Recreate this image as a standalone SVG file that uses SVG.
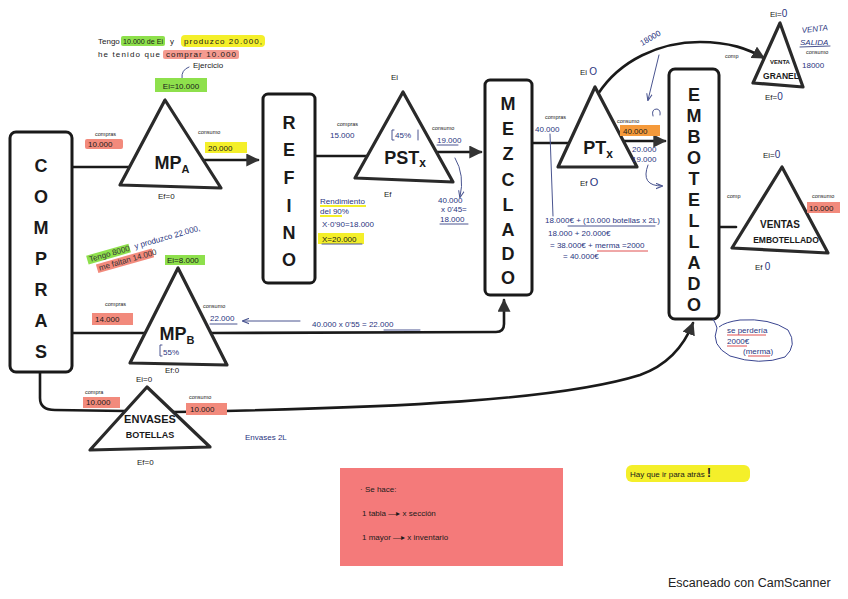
<svg xmlns="http://www.w3.org/2000/svg" width="848" height="599" viewBox="0 0 848 599">
<style>
.box{fill:#fff;stroke:#1a1a1a;stroke-width:3;stroke-linejoin:round}
.tri{fill:#fff;stroke:#2a2a2a;stroke-width:3.2;stroke-linejoin:round}
.ln{fill:none;stroke:#1a1a1a;stroke-width:2.6;stroke-linecap:round}
.thin{fill:none;stroke:#4a5590;stroke-width:1;stroke-linecap:round}
.big{font-family:"Liberation Sans",Arial,sans-serif;font-weight:bold;font-size:18px;fill:#1a1a1a;text-anchor:middle}
.nm{font-family:"Liberation Sans",Arial,sans-serif;font-weight:bold;fill:#1a1a1a;text-anchor:middle}
.sm{font-family:"Liberation Sans",Arial,sans-serif;font-size:5.5px;fill:#1a1a1a}
.t{font-family:"Liberation Sans",Arial,sans-serif;font-size:8px;fill:#1a1a1a}
.b{font-family:"Liberation Sans",Arial,sans-serif;font-size:8px;fill:#2a3580}
.hg{fill:#8ee04c}
.hy{fill:#f4ef2a}
.hs{fill:#f28a7c}
.ho{fill:#f59a3b}
</style>
<defs>
<marker id="ah" viewBox="0 0 10 10" refX="9" refY="5" markerWidth="5" markerHeight="5" orient="auto" markerUnits="strokeWidth">
<path d="M0,0 L10,5 L0,10 z" fill="#333"/>
</marker>
<marker id="ahb" viewBox="0 0 10 10" refX="9" refY="5" markerWidth="7" markerHeight="7" orient="auto" markerUnits="strokeWidth">
<path d="M0,1 L10,5 L0,9" fill="none" stroke="#4a5590" stroke-width="1.5"/>
</marker>
</defs>

<g id="connectors">
<path class="ln" d="M72,167 L130,167"/>
<path class="ln" d="M203,160 L258,160" marker-end="url(#ah)"/>
<path class="ln" d="M315,156 L367,156"/>
<path class="ln" d="M436,152 L481,152" marker-end="url(#ah)"/>
<path class="ln" d="M532,143 L569,143"/>
<path class="ln" d="M624,141 L665,141" marker-end="url(#ah)"/>
<path class="ln" d="M598,94 C620,60 660,42 700,42 C730,42 748,49 764,58" marker-end="url(#ah)"/>
<path class="ln" d="M72,333 L145,333"/>
<path class="ln" d="M211,333 L496,332 Q504,332 504,324 L504,300" marker-end="url(#ah)"/>
<path class="ln" d="M40,372 L40,398 Q40,410 55,410 L125,411"/>
<path class="ln" d="M171,412 C400,408 560,400 640,375 C668,365 684,346 693,323" marker-end="url(#ah)"/>
<path class="ln" d="M719,227 L736,227"/>
<path class="thin" d="M659,55 L648,100" marker-end="url(#ahb)"/>
<path class="thin" d="M648,165 Q640,186 662,186" marker-end="url(#ahb)"/>
<path class="thin" d="M455,158 Q465,175 460,197" marker-end="url(#ahb)"/>
<path class="thin" d="M550,134 L553,216"/>
<path class="thin" d="M300,321 L243,321" marker-end="url(#ahb)"/>
<path class="thin" d="M653,116 Q651,109 657,109 Q661,110 660,115"/>
</g>

<g id="compras">
<rect class="box" x="10" y="132" width="62" height="240" rx="6"/>
<text class="big" x="41" y="172">C</text>
<text class="big" x="41" y="203">O</text>
<text class="big" x="41" y="234">M</text>
<text class="big" x="41" y="265">P</text>
<text class="big" x="41" y="296">R</text>
<text class="big" x="41" y="327">A</text>
<text class="big" x="41" y="358">S</text>
</g>

<g id="notes-a">
<rect class="hg" x="121" y="36" width="44" height="10" rx="2"/>
<rect class="hy" x="181" y="35" width="84" height="12" rx="4"/>
<text class="t" x="98" y="44" font-size="7.5">Tengo</text>
<text class="t" x="123" y="44" font-size="7.5" textLength="40" lengthAdjust="spacingAndGlyphs">10.000 de Ei</text>
<text class="t" x="170" y="44" font-size="7.5">y</text>
<text class="t" x="184" y="44" font-size="7.5" textLength="78" lengthAdjust="spacing">produzco 20.000,</text>
<rect class="hs" x="163" y="50" width="76" height="9" rx="2" opacity="0.85"/>
<text class="t" x="98" y="57" font-size="7.5" textLength="62" lengthAdjust="spacing">he tenido que</text>
<text class="t" x="166" y="57" font-size="7.5" textLength="70" lengthAdjust="spacing">comprar 10.000</text>
<text class="t" x="193" y="68" font-size="7">Ejercicio</text>
<path class="thin" stroke="#333" d="M182,78 Q181,70 189,67"/>
<rect class="hg" x="155" y="78" width="52" height="14"/>
<text class="t" x="181" y="89" text-anchor="middle">Ei=10.000</text>
</g>

<g id="mpa">
<polygon class="tri" points="165,100 120,185 221,188"/>
<text class="nm" x="172" y="169" font-size="18">MP<tspan font-size="11" dy="4">A</tspan></text>
<text class="sm" x="95" y="136">compras</text>
<rect class="hs" x="85" y="139" width="38" height="10" rx="2"/>
<text class="t" x="88" y="147">10.000</text>
<text class="sm" x="198" y="134">consumo</text>
<rect class="hy" x="205" y="142" width="42" height="11"/>
<text class="t" x="208" y="151">20.000</text>
<text class="t" x="158" y="199">Ef=0</text>
</g>

<g id="refino">
<rect class="box" x="263" y="94" width="52" height="189" rx="5"/>
<text class="big" x="289" y="129">R</text>
<text class="big" x="289" y="156">E</text>
<text class="big" x="289" y="184">F</text>
<text class="big" x="289" y="212">I</text>
<text class="big" x="289" y="239">N</text>
<text class="big" x="289" y="266">O</text>
</g>

<g id="pstx">
<polygon class="tri" points="403,92 355,178 453,182"/>
<text class="nm" x="405" y="164" font-size="18">PST<tspan font-size="12" dy="3">x</tspan></text>
<text class="b" x="395" y="138">45%</text>
<path class="thin" d="M394,130 L392,130 L392,140 L394,140 M418,130 L418,140"/>
<text class="t" x="391" y="80" font-size="7">Ei</text>
<text class="t" x="384" y="197" font-size="7">Ef</text>
<text class="sm" x="337" y="126">compras</text>
<text class="b" x="330" y="138">15.000</text>
<text class="sm" x="432" y="130">consumo</text>
<text class="b" x="437" y="143">19.000</text>
<path class="thin" d="M437,145 L458,145"/>
<text class="b" x="438" y="203" font-size="7">40.000</text>
<text class="b" x="441" y="212" font-size="7">x 0'45=</text>
<text class="b" x="440" y="222" font-size="7">18.000</text>
<path class="thin" d="M440,224 L468,224"/>
<text class="b" x="320" y="204">Rendimiento</text>
<path d="M320,206 L366,206" stroke="#f4ef2a" stroke-width="2"/>
<text class="b" x="320" y="214">del 90%</text>
<path d="M320,216 L342,216" stroke="#f4ef2a" stroke-width="2"/>
<text class="b" x="322" y="227" font-size="7">X·0'90=18.000</text>
<rect class="hy" x="318" y="233" width="46" height="11"/>
<text class="t" x="322" y="242">X=20.000</text>
<path class="thin" stroke="#333" d="M322,244 L362,244"/>
</g>

<g id="mezclado">
<rect class="box" x="485" y="80" width="47" height="215" rx="5"/>
<text class="big" x="508" y="110">M</text>
<text class="big" x="508" y="135">E</text>
<text class="big" x="508" y="160">Z</text>
<text class="big" x="508" y="186">C</text>
<text class="big" x="508" y="211">L</text>
<text class="big" x="508" y="236">A</text>
<text class="big" x="508" y="260">D</text>
<text class="big" x="508" y="284">O</text>
</g>

<g id="ptx">
<polygon class="tri" points="595,87 558,167 637,167"/>
<text class="nm" x="598" y="154" font-size="18">PT<tspan font-size="12" dy="4">x</tspan></text>
<text class="t" x="580" y="75">Ei <tspan fill="#2a3580" font-size="10">O</tspan></text>
<text class="t" x="580" y="186">Ef <tspan fill="#2a3580" font-size="11">O</tspan></text>
<text class="sm" x="545" y="119">compras</text>
<text class="b" x="535" y="132">40.000</text>
<text class="sm" x="617" y="123">consumo</text>
<rect class="ho" x="620" y="125" width="40" height="11"/>
<text class="t" x="623" y="134">40.000</text>
<text class="b" x="632" y="152" font-size="7">20.000</text>
<text class="b" x="632" y="162" font-size="7">19.000</text>
<text class="b" x="545" y="223" font-size="7">18.000€ + (10.000 botellas x 2L)</text>
<path class="thin" d="M568,226 L655,226"/>
<text class="b" x="548" y="236" font-size="7">18.000  +  20.000€</text>
<text class="b" x="550" y="248" font-size="7">= 38.000€ + merma =2000</text>
<path d="M597,251 L648,251" stroke="#e05050" stroke-width="1"/>
<text class="b" x="563" y="259" font-size="7">= 40.000€</text>
<text class="b" x="642" y="46" font-size="11" transform="rotate(-30 642 46)">18000</text>
</g>

<g id="embotellado">
<rect class="box" x="669" y="69" width="50" height="250" rx="6"/>
<text class="big" font-size="16" x="694" y="101">E</text>
<text class="big" font-size="16" x="694" y="122">M</text>
<text class="big" font-size="16" x="694" y="143">B</text>
<text class="big" font-size="16" x="694" y="164">O</text>
<text class="big" font-size="16" x="694" y="185">T</text>
<text class="big" font-size="16" x="694" y="206">E</text>
<text class="big" font-size="16" x="694" y="227">L</text>
<text class="big" font-size="16" x="694" y="248">L</text>
<text class="big" font-size="16" x="694" y="269">A</text>
<text class="big" font-size="16" x="694" y="290">D</text>
<text class="big" font-size="16" x="694" y="311">O</text>
</g>

<g id="venta-granel">
<polygon class="tri" points="780,23 753,83 803,87"/>
<text class="nm" x="780" y="64" font-size="6">VENTA</text>
<text class="nm" x="781" y="79" font-size="8.5">GRANEL</text>
<text class="t" x="770" y="17">Ei=<tspan fill="#2a3580" font-size="10">0</tspan></text>
<text class="t" x="765" y="100">Ef=<tspan fill="#2a3580" font-size="10">0</tspan></text>
<text class="sm" x="725" y="58">comp</text>
<text class="b" x="802" y="33" font-style="italic" font-size="9" transform="rotate(-6 802 33)">VENTA</text>
<text class="b" x="800" y="45" font-style="italic" font-size="9">SALIDA</text>
<path class="thin" d="M800,47 L830,46"/>
<text class="sm" x="806" y="54">consumo</text>
<text class="b" x="802" y="68">18000</text>
</g>

<g id="ventas-embotellado">
<polygon class="tri" points="782,167 732,248 828,253"/>
<text class="nm" x="780" y="228" font-size="10">VENTAS</text>
<text class="nm" x="786" y="243" font-size="8.5">EMBOTELLADO</text>
<text class="t" x="763" y="158">Ei=<tspan fill="#2a3580" font-size="10">0</tspan></text>
<text class="t" x="755" y="270">Ef <tspan fill="#2a3580" font-size="10">0</tspan></text>
<text class="sm" x="727" y="198">comp</text>
<text class="sm" x="812" y="198">consumo</text>
<rect class="hs" x="807" y="202" width="33" height="11"/>
<text class="t" x="809" y="211">10.000</text>
</g>

<g id="merma-bubble">
<path fill="none" stroke="#3a4590" stroke-width="1" d="M713,319 Q716,324 717,328 Q710,345 730,356 Q760,366 785,357 Q798,345 788,330 Q770,318 740,320 Q725,322 719,327"/>
<text class="b" x="727" y="333" font-size="7">se perdería</text>
<path d="M727,335 L766,335" stroke="#e05050" stroke-width="1"/>
<text class="b" x="727" y="344" font-size="7">2000€</text>
<path d="M727,346 L747,346" stroke="#e05050" stroke-width="1"/>
<text class="b" x="743" y="354" font-size="6">(merma)</text>
<path d="M748,356 L770,356" stroke="#e05050" stroke-width="1"/>
</g>

<g id="mpb">
<polygon class="tri" points="178,268 130,363 227,365"/>
<text class="nm" x="177" y="340" font-size="18">MP<tspan font-size="11" dy="4">B</tspan></text>
<text class="b" x="163" y="355" font-size="11">55%</text>
<path class="thin" d="M162,345 L160,345 L160,356 L162,356"/>
<text class="t" x="165" y="373" font-size="7">Ef:0</text>
<rect class="hg" x="165" y="255" width="40" height="10"/>
<text class="t" x="167" y="263" font-size="7">Ei=8.000</text>
<g transform="rotate(-16 90 262)">
<rect class="hg" x="88" y="255" width="44" height="9"/>
<text class="b" x="90" y="262" font-size="7" style="fill:#333">Tengo 8000</text>
<text class="b" x="137" y="262" font-size="7">y produzco 22.000,</text>
<rect class="hs" x="95" y="266" width="58" height="9"/>
<text class="b" x="97" y="273" font-size="7" style="fill:#333">me faltan 14.000</text>
</g>
<text class="sm" x="105" y="306">compras</text>
<rect class="hs" x="92" y="313" width="41" height="12"/>
<text class="t" x="95" y="322">14.000</text>
<text class="sm" x="203" y="308">consumo</text>
<text class="b" x="210" y="321">22.000</text>
<path class="thin" d="M210,324 L237,324"/>
<text class="b" x="312" y="327" font-size="10">40.000 x 0'55 = 22.000</text>
<path class="thin" d="M384,330 L420,330"/>
</g>

<g id="envases">
<polygon class="tri" points="147,387 90,450 210,447"/>
<text class="nm" x="150" y="423" font-size="11">ENVASES</text>
<text class="nm" x="150" y="438" font-size="9">BOTELLAS</text>
<text class="t" x="136" y="382" font-size="7">Ei=0</text>
<text class="t" x="137" y="465" font-size="7">Ef=0</text>
<text class="sm" x="85" y="394">compra</text>
<rect class="hs" x="83" y="397" width="37" height="11"/>
<text class="t" x="86" y="405" font-size="7">10.000</text>
<text class="sm" x="189" y="399">consumo</text>
<rect class="hs" x="186" y="403" width="41" height="12"/>
<text class="t" x="190" y="412" font-size="7">10.000</text>
<text class="b" x="245" y="440" font-size="7">Envases 2L</text>
</g>

<g id="note">
<rect x="340" y="468" width="223" height="98" fill="#f47a7a"/>
<text class="t" x="360" y="492" font-size="9">· Se hace:</text>
<text class="t" x="362" y="516" font-size="9">1 tabla —▸ x sección</text>
<text class="t" x="362" y="540" font-size="9">1 mayor —▸ x inventario</text>
</g>

<g id="back-note">
<rect class="hy" x="626" y="465" width="124" height="17" rx="6"/>
<text class="t" x="630" y="477" font-size="9" fill="#1a1a50">Hay que ir para atrás <tspan font-weight="bold" font-size="12">!</tspan></text>
</g>

<text x="668" y="587" font-family="'Liberation Sans',Arial,sans-serif" font-size="12.5" fill="#222">Escaneado con CamScanner</text>
</svg>
